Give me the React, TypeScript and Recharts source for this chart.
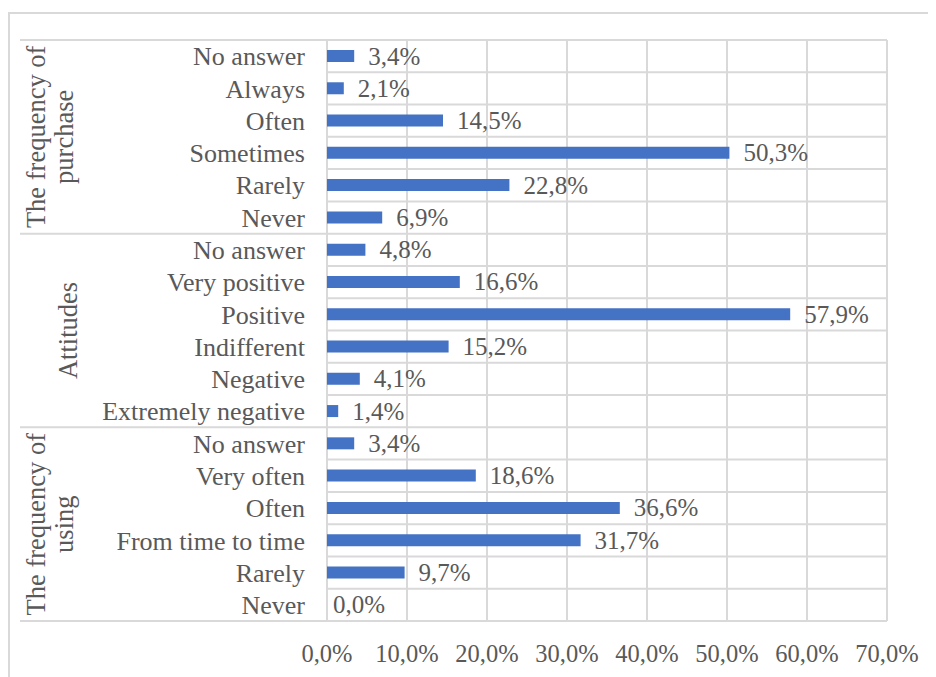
import React from 'react';
import { BarChart, Bar, XAxis, YAxis, CartesianGrid, LabelList, Cell, usePlotArea } from 'recharts';

const categories = [
  'No answer', 'Always', 'Often', 'Sometimes', 'Rarely', 'Never',
  'No answer', 'Very positive', 'Positive', 'Indifferent', 'Negative', 'Extremely negative',
  'No answer', 'Very often', 'Often', 'From time to time', 'Rarely', 'Never',
];
const values = [
  3.4, 2.1, 14.5, 50.3, 22.8, 6.9,
  4.8, 16.6, 57.9, 15.2, 4.1, 1.4,
  3.4, 18.6, 36.6, 31.7, 9.7, 0.0,
];
const groupLabels = [['The frequency of', 'purchase'], ['Attitudes'], ['The frequency of', 'using']];
const groupSizes = [6, 6, 6];
const xTicks = [0, 10, 20, 30, 40, 50, 60, 70];

const data = categories.map((label, i) => ({ id: i, label, value: values[i] }));

const FONT = '"Liberation Serif", "Times New Roman", serif';
const TEXT = '#595959';
const GRID = '#d9d9d9';
const BAR = '#4472C4';
const fmt = (v: number) => v.toFixed(1).replace('.', ',') + '%';

function GroupLabels() {
  const plot = usePlotArea();
  if (!plot) return null;
  const rowH = plot.height / categories.length;
  const els: React.ReactNode[] = [];
  let start = 0;
  groupSizes.forEach((n, gi) => {
    const y0 = plot.y + start * rowH;
    const cy = plot.y + (start + n / 2) * rowH;
    els.push(<line key={'l' + gi} x1={12} x2={plot.x} y1={y0} y2={y0} stroke={GRID} strokeWidth={2} />);
    const lines = groupLabels[gi];
    const xs = lines.length === 2 ? [37, 65] : [69];
    lines.forEach((t, li) => {
      els.push(
        <text key={'t' + gi + li} x={xs[li]} y={cy} transform={`rotate(-90, ${xs[li]}, ${cy})`}
          textAnchor="middle" fill={TEXT} fontSize={26.5} fontFamily={FONT}>{t}</text>
      );
    });
    start += n;
  });
  const yEnd = plot.y + plot.height;
  els.push(<line key="lend" x1={12} x2={plot.x} y1={yEnd} y2={yEnd} stroke={GRID} strokeWidth={2} />);
  return <g>{els}</g>;
}

const ValueLabel = (props: any) => {
  const { x, y, width, height, value } = props;
  const v = Number(value);
  const w = v > 0 ? Number(width) || 0 : 0;
  const gap = v > 0 ? 14 : 6;
  return (
    <text x={Number(x) + w + gap} y={Number(y) + Number(height) / 2} dominantBaseline="central"
      fill={TEXT} fontSize={25} fontFamily={FONT}>{fmt(v)}</text>
  );
};

export default function App() {
  return (
    <div style={{ position: 'relative', width: 928, height: 669 }}>
      <div style={{ position: 'absolute', left: 0, top: 4, width: 926, height: 663, borderTop: `2px solid ${GRID}`, borderLeft: `2px solid ${GRID}` }} />
      <BarChart width={928} height={669} data={data} layout="vertical"
        margin={{ top: 32, right: 49, bottom: 6, left: 19 }} style={{ position: 'absolute', left: 0, top: 0 }}>
        <CartesianGrid stroke={GRID} strokeWidth={2}
          horizontalCoordinatesGenerator={(p: any) => {
            const top = p.offset.top;
            const h = p.offset.height;
            return categories.map((_, i) => top + (i * h) / categories.length).concat([top + h]);
          }} />
        <XAxis type="number" domain={[0, 70]} ticks={xTicks} tickFormatter={fmt} axisLine={false} tickLine={false}
          height={50} tickMargin={18} interval={0}
          tick={{ fill: TEXT, fontSize: 24.5, fontFamily: FONT }} />
        <YAxis type="category" dataKey="id" width={300} axisLine={false} tickLine={false} tickMargin={16} interval={0}
          tickFormatter={(v: number) => categories[v]}
          tick={{ fill: TEXT, fontSize: 26, fontFamily: FONT }} />
        <Bar dataKey="value" fill={BAR} barSize={12} minPointSize={1} isAnimationActive={false}>
          {data.map((d) => (
            <Cell key={d.id} fill={d.value > 0 ? BAR : 'transparent'} />
          ))}
          <LabelList dataKey="value" content={ValueLabel} />
        </Bar>
        <GroupLabels />
      </BarChart>
    </div>
  );
}
